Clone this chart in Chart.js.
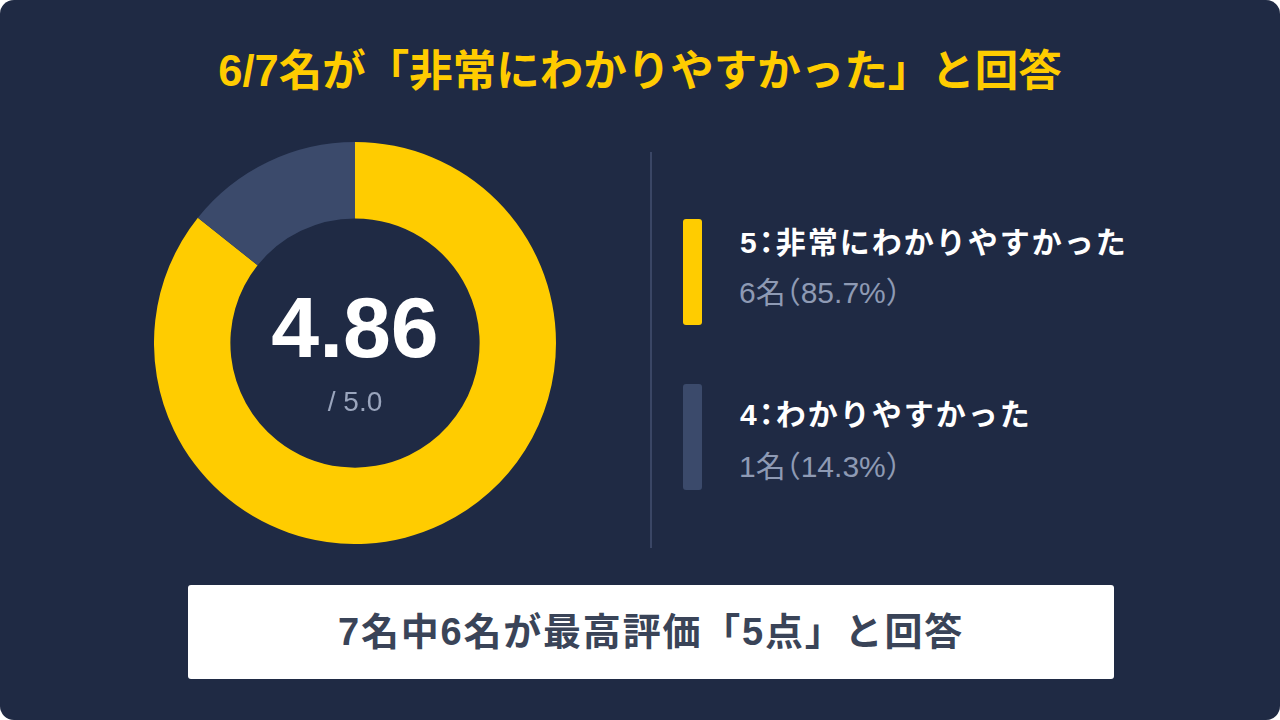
<!DOCTYPE html>
<html>
<head>
<meta charset="utf-8">
<script src="https://cdn.jsdelivr.net/npm/chart.js@4"></script>
<style>
  html, body { margin: 0; padding: 0; background: #ffffff; }
  body { width: 1280px; height: 720px; overflow: hidden; font-family: "Liberation Sans", "Noto Sans CJK JP", sans-serif; }
  #card { position: absolute; left: 0; top: 0; width: 1280px; height: 720px; background: #1f2a44; border-radius: 14px; }
  #title { position: absolute; left: 0; width: 1280px; top: 43px; text-align: center; color: #ffcc00; font-size: 43.5px; font-weight: bold; line-height: 56px; white-space: nowrap; }
  #chartBox { position: absolute; left: 154px; top: 142px; width: 402px; height: 402px; }
  #center { position: absolute; left: 154px; top: 142px; width: 402px; height: 402px; pointer-events: none; }
  #score { position: absolute; left: 0; width: 402px; top: 140px; text-align: center; color: #ffffff; font-size: 86px; font-weight: bold; line-height: 90px; }
  #outOf { position: absolute; left: 0; width: 402px; top: 244px; text-align: center; color: #9aa5bd; font-size: 28px; line-height: 32px; }
  #divider { position: absolute; left: 650px; top: 152px; width: 2px; height: 396px; background: #3a4665; }
  .bar { position: absolute; left: 683px; width: 19px; height: 106px; border-radius: 3px; }
  .lbl { position: absolute; left: 740px; color: #ffffff; font-size: 30px; font-weight: bold; line-height: 40px; letter-spacing: 2px; white-space: nowrap; font-feature-settings: "halt"; }
  .sub { position: absolute; left: 739px; color: #8e9ab4; font-size: 30px; line-height: 40px; white-space: nowrap; font-feature-settings: "halt"; }
  #note { position: absolute; left: 188px; top: 585px; width: 926px; height: 94px; background: #ffffff; border-radius: 3px; text-align: center; color: #3a4458; font-size: 38px; font-weight: bold; line-height: 94px; letter-spacing: 1.8px; white-space: nowrap; }
</style>
</head>
<body>
<div id="card">
  <div id="title">6/7名が「非常にわかりやすかった」と回答</div>
  <div id="chartBox"><canvas id="donut"></canvas></div>
  <div id="center">
    <div id="score"></div>
    <div id="outOf"></div>
  </div>
  <div id="divider"></div>
  <div id="legend"></div>
  <div id="note">7名中6名が最高評価「5点」と回答</div>
</div>
<script>
// rating data
const ratingLabels = ["5：非常にわかりやすかった", "4：わかりやすかった"];
const ratingScores = [5, 4];
const ratingCounts = [6, 1];
const ratingColors = ["#ffcc00", "#3b4a6b"];
const maxScore = 5.0;

const total = ratingCounts.reduce((a, b) => a + b, 0);
let sum = 0;
ratingCounts.forEach((c, i) => { sum += c * ratingScores[i]; });
document.getElementById("score").textContent = (sum / total).toFixed(2);
document.getElementById("outOf").textContent = "/ " + maxScore.toFixed(1);

// legend on the right (bar top, label centre, sub centre)
const legend = document.getElementById("legend");
const barTops = [219, 384];
const labelMid = [243, 415];
const subMid = [293, 467];
ratingLabels.forEach((label, i) => {
    const pct = (ratingCounts[i] / total * 100).toFixed(1);
    const bar = document.createElement("div");
    bar.className = "bar";
    bar.style.top = barTops[i] + "px";
    bar.style.background = ratingColors[i];
    const lbl = document.createElement("div");
    lbl.className = "lbl";
    lbl.style.top = (labelMid[i] - 20) + "px";
    lbl.textContent = label;
    const sub = document.createElement("div");
    sub.className = "sub";
    sub.style.top = (subMid[i] - 20) + "px";
    sub.textContent = ratingCounts[i] + "名（" + pct + "%）";
    legend.appendChild(bar);
    legend.appendChild(lbl);
    legend.appendChild(sub);
});

new Chart(document.getElementById("donut"), {
    type: "doughnut",
    data: {
        labels: ratingLabels,
        datasets: [{
            data: ratingCounts,
            backgroundColor: ratingColors,
            borderWidth: 0,
            hoverOffset: 0
        }]
    },
    options: {
        responsive: true,
        maintainAspectRatio: false,
        animation: false,
        cutout: "62%",
        layout: { padding: 0 },
        plugins: {
            legend: { display: false },
            tooltip: { enabled: false }
        }
    }
});
</script>
</body>
</html>
